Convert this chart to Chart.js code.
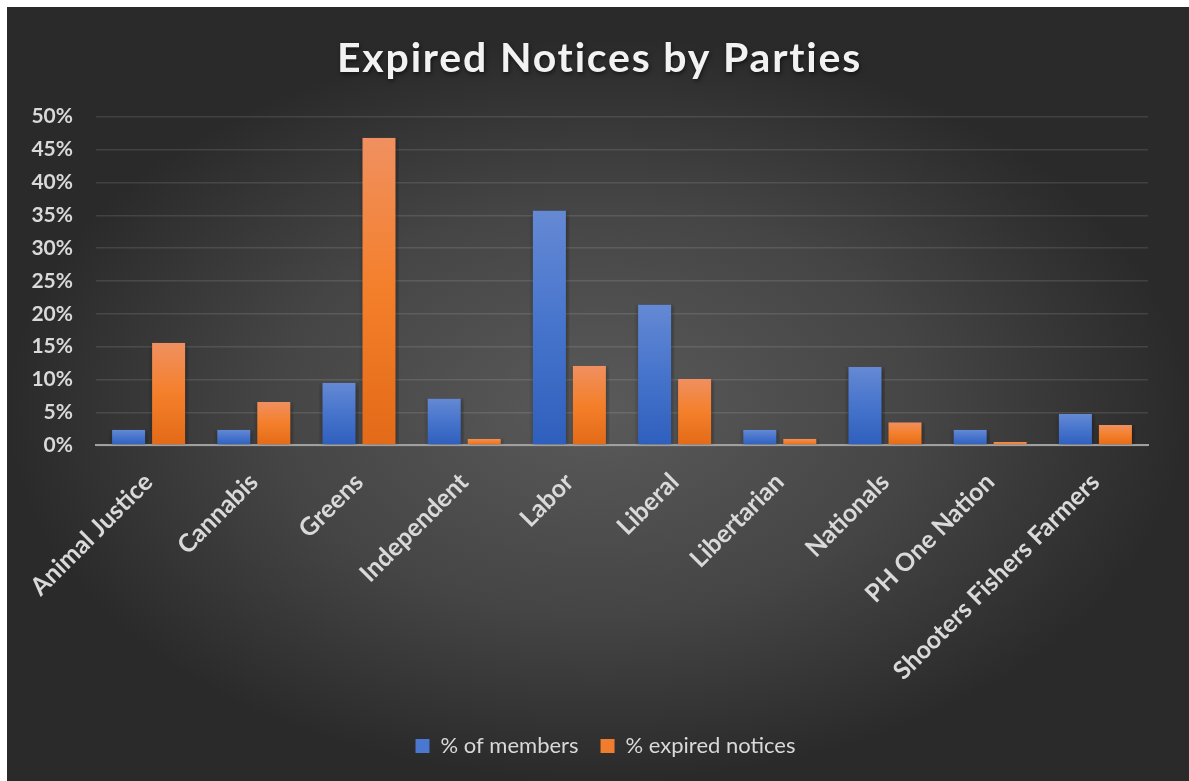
<!DOCTYPE html>
<html>
<head>
<meta charset="utf-8">
<script src="https://cdn.jsdelivr.net/npm/chart.js@4/dist/chart.umd.min.js"></script>
<style>
  html, body { margin: 0; padding: 0; background: #fff; }
  #box {
    position: absolute; left: 7px; top: 7px; width: 1182px; height: 774px;
    background: radial-gradient(ellipse closest-side at 50% 52%, #5a5a5a 0%, #454545 55%, #2a2a2a 100%);
  }
</style>
</head>
<body>
<div id="box"><canvas id="partiesChart"></canvas></div>
<script>
const parties = ['Animal Justice', 'Cannabis', 'Greens', 'Independent', 'Labor', 'Liberal',
  'Libertarian', 'Nationals', 'PH One Nation', 'Shooters Fishers Farmers']
// % of members (out of 42 members)
const membersPct = [2.38, 2.38, 9.52, 7.14, 35.71, 21.43, 2.38, 11.9, 2.38, 4.76]
const expiredPct = [15.6, 6.6, 46.8, 1.0, 12.1, 10.1, 1.0, 3.5, 0.5, 3.1]
const yTicks = [0, 5, 10, 15, 20, 25, 30, 35, 40, 45, 50]

const labelColor = '#d9d9d9'
const fontName = 'Lato, "Open Sans", sans-serif'

// gradient per bar, lighter on top
function barFill(top, mid, bottom) {
  return function (c) {
    if (c.type !== 'data' || !c.chart.chartArea) return mid
    var y = c.chart.scales.y
    var y0 = y.getPixelForValue(0)
    var y1 = y.getPixelForValue(c.raw)
    if (!isFinite(y0) || !isFinite(y1) || y0 - y1 < 1) return mid
    var g = c.chart.ctx.createLinearGradient(0, y1, 0, y0)
    g.addColorStop(0, top)
    g.addColorStop(0.5, mid)
    g.addColorStop(1, bottom)
    return g
  }
}

const barShadow = {
  id: 'barShadow',
  beforeDatasetsDraw(chart) {
    var ctx = chart.ctx
    ctx.save()
    ctx.shadowColor = 'rgba(0,0,0,0.45)'
    ctx.shadowBlur = 7
    ctx.shadowOffsetX = 1
    ctx.shadowOffsetY = 1
  },
  afterDatasetsDraw(chart) {
    chart.ctx.restore()
  }
}

// shift a box (title / legend) sideways, optionally with spacing + shadow
function shiftBox(chart, box, dx, fancy) {
  if (!box) return
  var orig = box.draw.bind(box)
  box.draw = function () {
    var ctx = chart.ctx
    ctx.save()
    ctx.translate(dx, 0)
    if (fancy) {
      if ('letterSpacing' in ctx) ctx.letterSpacing = '1.8px'
      ctx.shadowColor = 'rgba(0,0,0,0.55)'
      ctx.shadowBlur = 4
      ctx.shadowOffsetX = 1
      ctx.shadowOffsetY = 2
    }
    orig()
    ctx.restore()
  }
}

const boxTweaks = {
  id: 'boxTweaks',
  afterInit(chart) {
    shiftBox(chart, chart.titleBlock, 22, true)
    shiftBox(chart, chart.legend, 28, false)
  }
}

const ctx = document.getElementById('partiesChart')
new Chart(ctx, {
  type: 'bar',
  data: {
    labels: parties,
    datasets: [{
      label: '% of members',
      data: membersPct,
      backgroundColor: barFill('#6589d4', '#4674cc', '#2f5fbd'),
      borderColor: 'rgba(0,0,0,0)',
      borderWidth: { left: 3.5, right: 3.5, top: 0, bottom: 0 },
      categoryPercentage: 0.7605,
      barPercentage: 1
    }, {
      label: '% expired notices',
      data: expiredPct,
      backgroundColor: barFill('#f09060', '#f47f2a', '#e36a18'),
      borderColor: 'rgba(0,0,0,0)',
      borderWidth: { left: 3.5, right: 3.5, top: 0, bottom: 0 },
      categoryPercentage: 0.7605,
      barPercentage: 1
    }]
  },
  options: {
    responsive: true,
    maintainAspectRatio: false,
    animation: false,
    layout: { padding: { left: 0, right: 41, top: 0, bottom: 14 } },
    plugins: {
      title: {
        display: true,
        text: 'Expired Notices by Parties',
        color: '#f2f2f2',
        font: { family: fontName, size: 41, weight: 'bold' },
        padding: { top: 27.4, bottom: 33.1 }
      },
      legend: {
        position: 'bottom',
        labels: {
          color: labelColor,
          font: { family: fontName, size: 22 },
          boxWidth: 14,
          boxHeight: 14,
          padding: 22,
          generateLabels(chart) {
            var fills = ['#4a78d0', '#f07d2e']
            return chart.data.datasets.map(function (ds, i) {
              return { text: ds.label, fillStyle: fills[i], strokeStyle: fills[i], lineWidth: 0,
                fontColor: labelColor, datasetIndex: i, hidden: false }
            })
          }
        }
      },
      tooltip: { enabled: false }
    },
    scales: {
      x: {
        grid: { display: false, drawTicks: false },
        border: { color: '#a0a0a0', width: 2 },
        ticks: {
          color: labelColor,
          font: { family: fontName, size: 25, weight: 'bold' },
          minRotation: 45,
          maxRotation: 45,
          padding: 22
        },
        afterFit(scale) { scale.height = 267.7 }
      },
      y: {
        min: 0,
        max: 50,
        afterBuildTicks(scale) { scale.ticks = yTicks.map(function (v) { return { value: v } }) },
        grid: { color: 'rgba(255,255,255,0.11)', lineWidth: 1.5, drawTicks: false },
        border: { display: false },
        ticks: {
          color: labelColor,
          font: { family: fontName, size: 21, weight: 'bold' },
          padding: 23,
          callback: function (v) { return v + '%' }
        },
        afterFit(scale) { scale.width = 89 }
      }
    }
  },
  plugins: [barShadow, boxTweaks]
})
</script>
</body>
</html>
